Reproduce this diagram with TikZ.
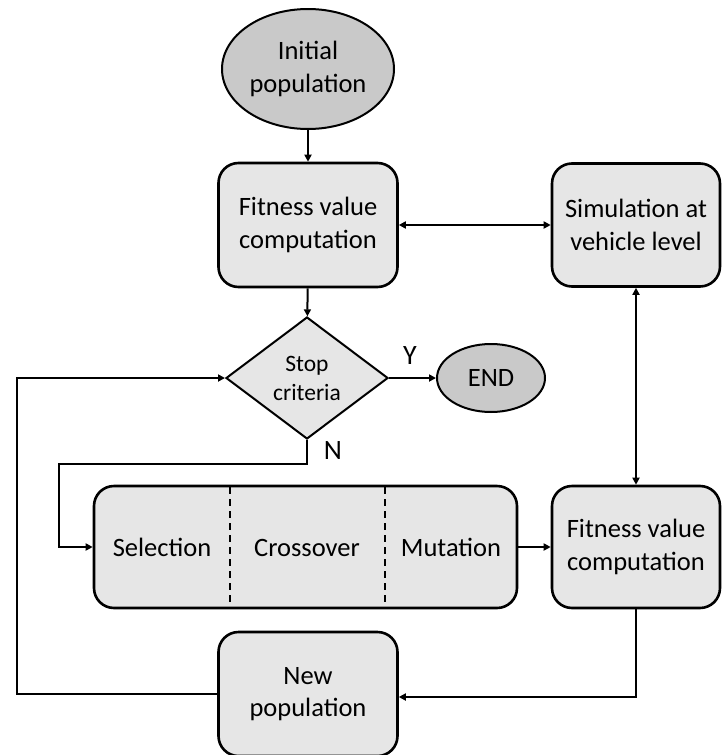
\documentclass[tikz,border=0pt]{standalone}
\usepackage{fontspec}
\setmainfont{Carlito}
\usetikzlibrary{shapes.geometric,arrows.meta}
\definecolor{boxfill}{HTML}{E6E6E6}
\definecolor{termfill}{HTML}{C9C9C9}
\tikzset{
  mainfont/.style={font=\fontsize{26.5}{32.5}\selectfont},
  procbox/.style={draw, line width=2.6pt, rounded corners=20pt, fill=boxfill, align=center, mainfont, inner sep=0pt},
  termnode/.style={draw, line width=2pt, ellipse, fill=termfill, align=center, mainfont, inner sep=0pt},
  decnode/.style={draw, line width=2pt, diamond, fill=boxfill, align=center, font=\fontsize{23.5}{29}\selectfont, inner sep=0pt},
  conn/.style={line width=2pt, -{Triangle[length=7pt,width=7pt]}},
  dconn/.style={line width=2pt, {Triangle[length=7pt,width=7pt]}-{Triangle[length=7pt,width=7pt]}},
  lbl/.style={font=\fontsize{28}{32}\selectfont, inner sep=0pt},
  rowtext/.style={mainfont, anchor=base, inner sep=0pt}
}
\begin{document}
\begin{tikzpicture}[x=1pt,y=-1pt]
\useasboundingbox (0,0) rectangle (723,755);
\node[termnode, minimum width=172pt, minimum height=120pt] (init) at (308,69) {Initial\\population};
\node[procbox, minimum width=179pt, minimum height=124pt] (fit1) at (308,225) {Fitness value\\computation};
\node[procbox, minimum width=168pt, minimum height=123pt] (sim) at (636,225) {Simulation at\\vehicle level};
\node[decnode, minimum width=162pt, minimum height=122pt] (stop) at (307,378) {Stop\\criteria};
\node[termnode, minimum width=108pt, minimum height=68pt] (end) at (491,378) {END};
\node[procbox, minimum width=423pt, minimum height=122pt] (big) at (305.5,547) {};
\node[rowtext] (sel) at (162,556) {Selection};
\node[rowtext] (cro) at (307,556) {Crossover};
\node[rowtext] (mut) at (451,556) {Mutation};
\coordinate (d1t) at (230,487);
\coordinate (d1b) at (230,607);
\coordinate (d2t) at (385,487);
\coordinate (d2b) at (385,607);
\draw[line width=1.3pt, dash pattern=on 7pt off 5pt] (d1t) -- (d1b);
\draw[line width=1.3pt, dash pattern=on 7pt off 5pt] (d2t) -- (d2b);
\node[procbox, minimum width=168pt, minimum height=122pt] (fit2) at (636,547) {Fitness value\\computation};
\node[procbox, minimum width=179pt, minimum height=124pt] (newp) at (308,694) {New\\population};
\draw[conn] (init) -- (fit1);
\draw[dconn] (fit1.east) -- (sim.west);
\draw[conn] (fit1) -- (stop);
\draw[conn] (stop.east) -- (end.west);
\node[lbl] (ylab) at (410,356) {Y};
\node[lbl] (nlab) at (333,451) {N};
\coordinate (nturn) at (307,464);
\coordinate (nleft) at (59,464);
\draw[conn] (stop.south) -- (nturn) -- (nleft) |- (big.west);
\draw[conn] (big.east) -- (fit2.west);
\draw[dconn] (sim.south) -- (fit2.north);
\coordinate (fdown) at (fit2.south |- 0,697);
\draw[conn] (fit2.south) -- (fdown) -- (newp.east |- fdown);
\coordinate (lloop) at (17,694);
\draw[conn] (newp.west) -- (lloop) |- (stop.west);
\end{tikzpicture}
\end{document}
